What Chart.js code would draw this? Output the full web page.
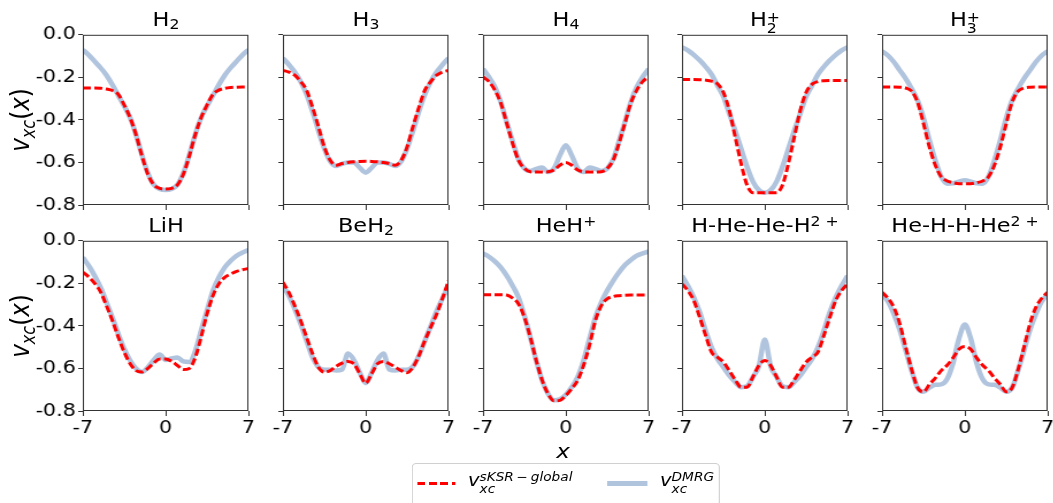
<!DOCTYPE html>
<html>
<head>
<meta charset="utf-8">
<script src="https://cdn.jsdelivr.net/npm/chart.js@4.4.1/dist/chart.umd.min.js"></script>
<style>
  html, body { margin: 0; padding: 0; background: #fff; overflow: hidden; }
  body { width: 1053px; height: 503px; position: relative; font-family: "DejaVu Sans", sans-serif; color: #000; }
  #fig { position: absolute; left: 0; top: 0; height: 503px; transform-origin: 0 0; }
  #fig canvas { position: absolute; }
  .txt { position: absolute; white-space: nowrap; }
  .s { position: relative; font-size: 0.7em; }
  .z { display: inline-block; width: 0; }
  .it { font-style: italic; }
</style>
</head>
<body>
<div id="fig"></div>
<script>
// ── Data ──
const XS = [-7,-6.5,-6,-5.5,-5,-4.5,-4,-3.5,-3,-2.5,-2,-1.5,-1,-0.5,0,0.5,1,1.5,2,2.5,3,3.5,4,4.5,5,5.5,6,6.5,7];
const XTICKS = [-7, 0, 7];
const YTICKS = [-0.8, -0.6, -0.4, -0.2, 0];

const TITLES    = ['H', 'H', 'H', 'H', 'H', 'LiH', 'BeH', 'HeH', 'H-He-He-H', 'He-H-H-He'];
const TITLE_SUB = ['2', '3', '4', '2', '3', '', '2', '', '', ''];
const TITLE_SUP = ['', '', '', '+', '+', '', '', '+', '2 +', '2 +'];

const KSR_H2   = [-0.25,-0.25,-0.25,-0.251,-0.255,-0.262,-0.28,-0.33,-0.39,-0.47,-0.57,-0.655,-0.705,-0.722,-0.725,-0.722,-0.705,-0.655,-0.57,-0.47,-0.39,-0.33,-0.28,-0.26,-0.252,-0.248,-0.246,-0.245,-0.245];
const DMRG_H2  = [-0.07,-0.095,-0.125,-0.155,-0.19,-0.235,-0.285,-0.335,-0.39,-0.47,-0.565,-0.65,-0.705,-0.725,-0.73,-0.725,-0.705,-0.65,-0.565,-0.47,-0.39,-0.335,-0.285,-0.235,-0.19,-0.155,-0.125,-0.095,-0.07];
const KSR_H3   = [-0.167,-0.175,-0.19,-0.22,-0.26,-0.34,-0.43,-0.527,-0.59,-0.613,-0.605,-0.6,-0.597,-0.595,-0.594,-0.595,-0.597,-0.6,-0.605,-0.613,-0.59,-0.527,-0.43,-0.34,-0.26,-0.22,-0.19,-0.175,-0.167];
const DMRG_H3  = [-0.11,-0.14,-0.175,-0.22,-0.28,-0.36,-0.45,-0.535,-0.595,-0.617,-0.607,-0.6,-0.6,-0.625,-0.648,-0.625,-0.6,-0.6,-0.607,-0.617,-0.595,-0.535,-0.45,-0.36,-0.28,-0.22,-0.175,-0.14,-0.11];
const KSR_H4   = [-0.198,-0.22,-0.26,-0.32,-0.415,-0.51,-0.59,-0.628,-0.644,-0.645,-0.645,-0.644,-0.636,-0.613,-0.6,-0.613,-0.636,-0.644,-0.645,-0.645,-0.644,-0.628,-0.59,-0.51,-0.415,-0.32,-0.26,-0.22,-0.198];
const DMRG_H4  = [-0.16,-0.198,-0.245,-0.315,-0.41,-0.5,-0.585,-0.628,-0.64,-0.63,-0.624,-0.645,-0.628,-0.567,-0.519,-0.567,-0.628,-0.645,-0.624,-0.63,-0.64,-0.628,-0.585,-0.5,-0.41,-0.315,-0.245,-0.198,-0.16];
const KSR_H2P  = [-0.21,-0.21,-0.21,-0.211,-0.213,-0.218,-0.23,-0.27,-0.355,-0.48,-0.605,-0.706,-0.742,-0.742,-0.742,-0.742,-0.742,-0.706,-0.605,-0.48,-0.355,-0.27,-0.232,-0.22,-0.216,-0.215,-0.215,-0.215,-0.215];
const DMRG_H2P = [-0.058,-0.073,-0.094,-0.12,-0.15,-0.186,-0.238,-0.29,-0.37,-0.45,-0.535,-0.62,-0.69,-0.73,-0.742,-0.73,-0.69,-0.62,-0.535,-0.45,-0.37,-0.29,-0.238,-0.186,-0.15,-0.12,-0.094,-0.073,-0.058];
const KSR_H3P  = [-0.245,-0.245,-0.245,-0.246,-0.25,-0.265,-0.316,-0.417,-0.527,-0.613,-0.667,-0.687,-0.695,-0.7,-0.7,-0.7,-0.695,-0.687,-0.667,-0.613,-0.527,-0.417,-0.316,-0.265,-0.25,-0.246,-0.245,-0.245,-0.245];
const DMRG_H3P = [-0.077,-0.097,-0.128,-0.167,-0.206,-0.253,-0.308,-0.39,-0.495,-0.59,-0.667,-0.7,-0.698,-0.69,-0.684,-0.69,-0.698,-0.7,-0.667,-0.59,-0.495,-0.39,-0.308,-0.253,-0.206,-0.167,-0.128,-0.097,-0.077];
const KSR_LIH  = [-0.147,-0.17,-0.2,-0.24,-0.305,-0.375,-0.453,-0.523,-0.578,-0.61,-0.617,-0.6,-0.575,-0.555,-0.555,-0.566,-0.586,-0.605,-0.6,-0.55,-0.453,-0.344,-0.258,-0.203,-0.172,-0.156,-0.144,-0.136,-0.13];
const DMRG_LIH = [-0.078,-0.117,-0.164,-0.219,-0.289,-0.36,-0.438,-0.508,-0.563,-0.6,-0.617,-0.594,-0.56,-0.535,-0.56,-0.553,-0.548,-0.567,-0.57,-0.52,-0.422,-0.328,-0.234,-0.172,-0.125,-0.094,-0.07,-0.055,-0.044];
const KSR_BEH2 = [-0.195,-0.242,-0.305,-0.375,-0.453,-0.53,-0.594,-0.617,-0.61,-0.59,-0.575,-0.567,-0.578,-0.625,-0.669,-0.625,-0.578,-0.567,-0.578,-0.594,-0.61,-0.62,-0.594,-0.539,-0.469,-0.406,-0.344,-0.269,-0.188];
const DMRG_BEH2= [-0.21,-0.258,-0.32,-0.39,-0.47,-0.547,-0.594,-0.606,-0.606,-0.61,-0.605,-0.53,-0.56,-0.62,-0.669,-0.62,-0.56,-0.53,-0.605,-0.61,-0.606,-0.606,-0.59,-0.54,-0.47,-0.4,-0.33,-0.27,-0.21];
const KSR_HEHP = [-0.253,-0.253,-0.253,-0.253,-0.255,-0.269,-0.297,-0.36,-0.453,-0.563,-0.656,-0.719,-0.752,-0.75,-0.727,-0.695,-0.656,-0.586,-0.492,-0.375,-0.305,-0.273,-0.262,-0.258,-0.256,-0.255,-0.255,-0.255,-0.255];
const DMRG_HEHP= [-0.059,-0.075,-0.097,-0.125,-0.164,-0.211,-0.266,-0.352,-0.453,-0.563,-0.656,-0.719,-0.75,-0.745,-0.723,-0.688,-0.64,-0.563,-0.461,-0.36,-0.289,-0.234,-0.188,-0.148,-0.114,-0.09,-0.07,-0.059,-0.05];
const KSR_HHEHEH  = [-0.203,-0.234,-0.281,-0.36,-0.445,-0.523,-0.547,-0.57,-0.61,-0.653,-0.688,-0.688,-0.64,-0.586,-0.5625,-0.586,-0.64,-0.688,-0.688,-0.653,-0.61,-0.57,-0.547,-0.523,-0.445,-0.36,-0.281,-0.234,-0.203];
const DMRG_HHEHEH = [-0.164,-0.211,-0.266,-0.336,-0.422,-0.5,-0.555,-0.594,-0.633,-0.664,-0.688,-0.684,-0.64,-0.59,-0.464,-0.59,-0.64,-0.684,-0.688,-0.664,-0.633,-0.594,-0.555,-0.5,-0.422,-0.336,-0.266,-0.211,-0.164];
const KSR_HEHHHE  = [-0.242,-0.27,-0.313,-0.39,-0.5,-0.605,-0.69,-0.71,-0.675,-0.645,-0.61,-0.585,-0.55,-0.51,-0.497,-0.51,-0.55,-0.585,-0.61,-0.645,-0.675,-0.71,-0.69,-0.605,-0.5,-0.39,-0.313,-0.27,-0.242];
const DMRG_HEHHHE = [-0.25,-0.285,-0.344,-0.42,-0.515,-0.61,-0.69,-0.71,-0.69,-0.677,-0.675,-0.65,-0.575,-0.46,-0.394,-0.46,-0.575,-0.65,-0.675,-0.677,-0.69,-0.71,-0.69,-0.61,-0.515,-0.42,-0.344,-0.285,-0.25];

const KSR  = [KSR_H2, KSR_H3, KSR_H4, KSR_H2P, KSR_H3P, KSR_LIH, KSR_BEH2, KSR_HEHP, KSR_HHEHEH, KSR_HEHHHE];
const DMRG = [DMRG_H2, DMRG_H3, DMRG_H4, DMRG_H2P, DMRG_H3P, DMRG_LIH, DMRG_BEH2, DMRG_HEHP, DMRG_HHEHEH, DMRG_HEHHHE];

// ── Layout (page pixels) ──
const S = 1.15;                 // the figure is stretched sideways
const PX = [83, 283, 483, 682, 882], PY = [34, 240];
const PW = 166, PH = 171;
const ML = 46, MR = 10, MT = 12, MB = 30;
const RED = '#ff0000', BLUE = '#b0c4de', INK = '#333';

const fig = document.getElementById('fig');
fig.style.width = (1053 / S) + 'px';
fig.style.transform = `scaleX(${S})`;

// box around each plot area
const frame = {
  id: 'frame',
  afterDraw(ch) {
    const a = ch.chartArea, c = ch.ctx;
    c.save();
    c.strokeStyle = INK;
    c.lineWidth = 1;
    c.strokeRect(a.left + 0.5, a.top + 0.5, a.right - a.left - 1, a.bottom - a.top - 1);
    c.restore();
  }
};

function makePanel(i) {
  const r = Math.floor(i / 5), c = i % 5;
  const pw = Math.round(PW / S);
  const cv = document.createElement('canvas');
  cv.width = pw + ML + MR;
  cv.height = PH + MT + MB;
  cv.style.width = cv.width + 'px';
  cv.style.height = cv.height + 'px';
  cv.style.left = (PX[c] / S - ML) + 'px';
  cv.style.top = (PY[r] - MT) + 'px';
  fig.appendChild(cv);

  const tickFont = { family: 'DejaVu Sans', size: 18 };
  new Chart(cv, {
    type: 'line',
    data: {
      datasets: [
        {
          data: XS.map((x, k) => ({ x, y: KSR[i][k] })),
          borderColor: RED, borderWidth: 3, borderDash: [7, 3],
          pointRadius: 0, cubicInterpolationMode: 'monotone', fill: false
        },
        {
          data: XS.map((x, k) => ({ x, y: DMRG[i][k] })),
          borderColor: BLUE, borderWidth: 4.5,
          pointRadius: 0, cubicInterpolationMode: 'monotone', fill: false
        }
      ]
    },
    options: {
      responsive: false,
      animation: false,
      events: [],
      layout: { padding: { top: MT, right: MR, left: 0, bottom: 0 } },
      plugins: { legend: { display: false }, tooltip: { enabled: false } },
      scales: {
        x: {
          type: 'linear', min: -7, max: 7,
          afterBuildTicks: ax => { ax.ticks = XTICKS.map(v => ({ value: v })); },
          afterFit: ax => { ax.height = MB; },
          grid: { drawOnChartArea: false, drawTicks: true, tickLength: 5, color: INK },
          border: { display: false },
          ticks: {
            autoSkip: false, maxRotation: 0, padding: 2, color: '#000', font: tickFont,
            callback: v => r === 1 ? String(v) : ''
          }
        },
        y: {
          type: 'linear', min: -0.8, max: 0,
          afterBuildTicks: ax => { ax.ticks = YTICKS.map(v => ({ value: v })); },
          afterFit: ax => { ax.width = ML; },
          grid: { drawOnChartArea: false, drawTicks: true, tickLength: 4, color: INK },
          border: { display: false },
          ticks: {
            autoSkip: false, padding: 2, color: '#000', font: tickFont,
            callback: v => c === 0 ? v.toFixed(1) : ''
          }
        }
      }
    },
    plugins: [frame]
  });
}

// ── Text helpers ──
function scriptHTML(base, sub, sup, dSub, dSup) {
  let h = base;
  if (sub && sup) {
    h += `<span class="s z" style="top:${dSub}px">${sub}</span><span class="s" style="top:${dSup}px">${sup}</span>`;
  } else if (sub) {
    h += `<span class="s" style="top:${dSub}px">${sub}</span>`;
  } else if (sup) {
    h += `<span class="s" style="top:${dSup}px">${sup}</span>`;
  }
  return h;
}

// x in page pixels, baseY = text baseline
function addText(html, x, baseY, size, center) {
  const d = document.createElement('div');
  const L = Math.round(size * 1.3);
  d.className = 'txt';
  d.style.fontSize = size + 'px';
  d.style.lineHeight = L + 'px';
  d.style.left = (x / S) + 'px';
  d.style.top = (baseY - ((L - 1.164 * size) / 2 + 0.928 * size)) + 'px';
  if (center) d.style.transform = 'translateX(-50%)';
  d.innerHTML = html;
  fig.appendChild(d);
  return d;
}

for (let i = 0; i < 10; i++) makePanel(i);

// titles
TITLES.forEach((t, i) => {
  const r = Math.floor(i / 5), c = i % 5;
  const stacked = TITLE_SUB[i] && TITLE_SUP[i];
  const html = scriptHTML(t, TITLE_SUB[i], TITLE_SUP[i], stacked ? 7 : 3, stacked ? -4 : -6);
  addText(html, PX[c] + PW / 2, PY[r] - 8, 19.5, true);
});

// y labels
PY.forEach(py => {
  const d = document.createElement('div');
  d.className = 'txt';
  d.style.fontSize = '23px';
  d.style.lineHeight = '28px';
  d.style.left = (22 / S) + 'px';
  d.style.top = (py + PH / 2) + 'px';
  d.style.transform = 'translate(-50%, -50%) rotate(-90deg)';
  d.innerHTML = '<span class="it">v</span><span class="s it" style="top:5px">xc</span>(<span class="it">x</span>)';
  fig.appendChild(d);
});

// x label
addText('<span class="it">x</span>', 563, 458, 20, true);

// legend
const box = document.createElement('div');
Object.assign(box.style, {
  position: 'absolute', left: (412 / S) + 'px', top: '463px',
  width: (308 / S) + 'px', height: '46px',
  border: '1px solid #d0d0d0', borderRadius: '4px', background: '#fff', boxSizing: 'border-box'
});
fig.appendChild(box);

const redKey = document.createElement('div');
Object.assign(redKey.style, {
  position: 'absolute', left: (417 / S) + 'px', top: '481.5px', width: (38 / S) + 'px', height: '3px',
  background: `repeating-linear-gradient(to right, ${RED} 0 7px, transparent 7px 10px)`
});
fig.appendChild(redKey);

const blueKey = document.createElement('div');
Object.assign(blueKey.style, {
  position: 'absolute', left: (607 / S) + 'px', top: '481px', width: (40 / S) + 'px', height: '4.5px',
  background: BLUE
});
fig.appendChild(blueKey);

addText('<span class="it">v</span>' + scriptHTML('', '<i>xc</i>', '<i>sKSR</i>\u2009\u2212\u2009<i>global</i>', 7, -5), 468, 486, 17, false);
addText('<span class="it">v</span>' + scriptHTML('', '<i>xc</i>', '<i>DMRG</i>', 7, -5), 660, 486, 17, false);
</script>
</body>
</html>
